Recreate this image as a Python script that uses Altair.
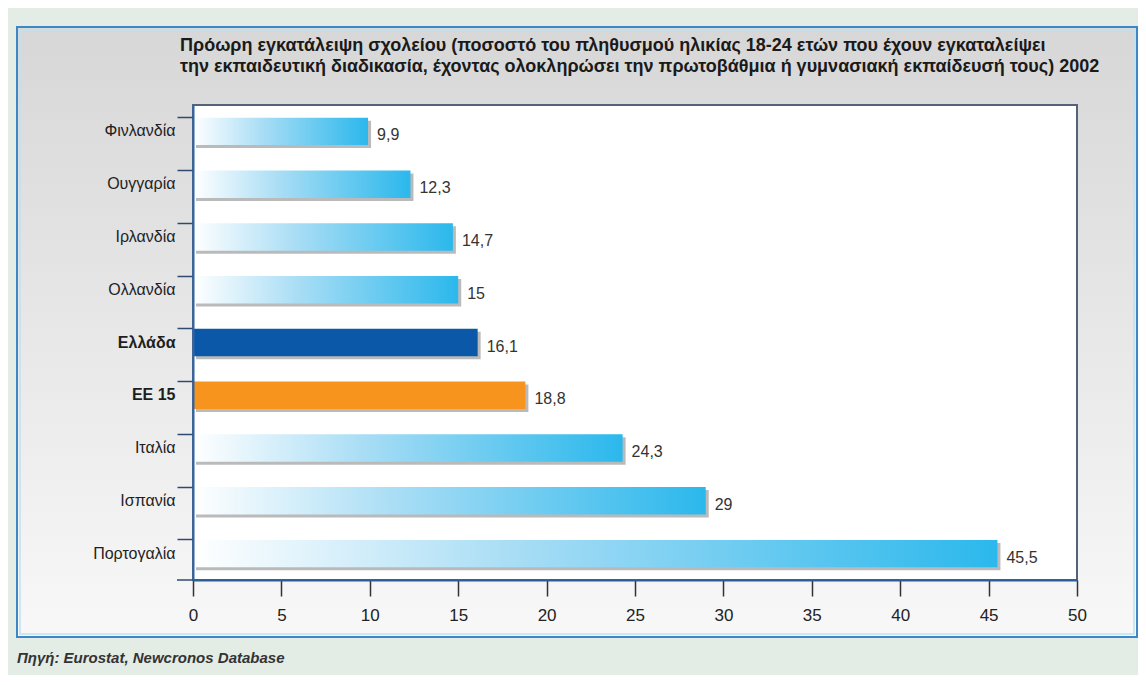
import altair as alt
import pandas as pd

countries = ["Φινλανδία", "Ουγγαρία", "Ιρλανδία", "Ολλανδία", "Ελλάδα",
             "ΕΕ 15", "Ιταλία", "Ισπανία", "Πορτογαλία"]
values = [9.9, 12.3, 14.7, 15, 16.1, 18.8, 24.3, 29, 45.5]
labels = ["9,9", "12,3", "14,7", "15", "16,1", "18,8", "24,3", "29", "45,5"]
groups = ["other", "other", "other", "other", "greece", "eu", "other", "other", "other"]
x_ticks = [0, 5, 10, 15, 20, 25, 30, 35, 40, 45, 50]

title_1 = "Πρόωρη εγκατάλειψη σχολείου (ποσοστό του πληθυσμού ηλικίας 18-24 ετών που έχουν εγκαταλείψει"
title_2 = "την εκπαιδευτική διαδικασία, έχοντας ολοκληρώσει την πρωτοβάθμια ή γυμνασιακή εκπαίδευσή τους) 2002"
source = "Πηγή: Eurostat, Newcronos Database"

FONT = "Liberation Sans, Arial, sans-serif"
W, H = 884, 475

df = pd.DataFrame({"country": countries, "value": values, "label": labels, "group": groups})
one = pd.DataFrame({"a": [0]})

y_enc = alt.Y("country:N", sort=countries,
              scale=alt.Scale(paddingInner=0.48, paddingOuter=0.24),
              axis=alt.Axis(title=None, domainColor="#2a66ad", domainWidth=2,
                            tickColor="#2f4a70", tickSize=16, tickWidth=1.5,
                            bandPosition=0, labelFontSize=16, labelFont=FONT,
                            labelColor="#1e1e1e", labelPadding=2, zindex=1,
                            labelFontWeight={"expr": "datum.value == 'Ελλάδα' || datum.value == 'ΕΕ 15' ? 'bold' : 'normal'"}))
x_enc = alt.X("value:Q", scale=alt.Scale(domain=[0, 50], nice=False),
              axis=alt.Axis(title=None, values=x_ticks, grid=False,
                            domainColor="#2a5d9a", domainWidth=2,
                            tickColor="#333333", tickSize=16, tickWidth=1.5,
                            labelFontSize=17, labelFont=FONT, labelColor="#222222",
                            labelPadding=11, labelFlush=False, zindex=1))

box = alt.Chart(one).mark_rect(
    fill={"gradient": "linear", "x1": 0, "y1": 0, "x2": 0, "y2": 1,
          "stops": [{"offset": 0, "color": "#d7d7d7"}, {"offset": 1, "color": "#f8f8f8"}]},
    stroke="#3f86c6", strokeWidth=2
).encode(x=alt.value(-176), x2=alt.value(944), y=alt.value(-78), y2=alt.value(532))

inner = alt.Chart(one).mark_rect(fill="transparent", stroke="#bfe2f4", strokeWidth=1.5).encode(
    x=alt.value(-173), x2=alt.value(941), y=alt.value(-75), y2=alt.value(529))

plot_bg = alt.Chart(one).mark_rect(fill="#ffffff", stroke="#56627a", strokeWidth=2).encode(
    x=alt.value(0), x2=alt.value(W), y=alt.value(0), y2=alt.value(H))

base = alt.Chart(df)

shadow = base.mark_bar(color="#8c8c8c", opacity=0.6, xOffset=3, x2Offset=3, yOffset=3).encode(
    x=x_enc, y=y_enc)

bars_other = base.transform_filter(alt.datum.group == "other").mark_bar(
    fill={"gradient": "linear", "x1": 0, "y1": 0, "x2": 1, "y2": 0,
          "stops": [{"offset": 0, "color": "#ffffff"},
                    {"offset": 0.4, "color": "#a8ddf5"},
                    {"offset": 1, "color": "#2bb8ec"}]}
).encode(x=x_enc, y=y_enc)

bars_gr = base.transform_filter(alt.datum.group == "greece").mark_bar(fill="#0b58a8").encode(
    x=x_enc, y=y_enc)
bars_eu = base.transform_filter(alt.datum.group == "eu").mark_bar(fill="#f7941e").encode(
    x=x_enc, y=y_enc)

vals = base.mark_text(align="left", baseline="middle", dx=9, dy=4, fontSize=16,
                      font=FONT, color="#333333").encode(x=x_enc, y=y_enc, text="label:N")

bottom_tick = alt.Chart(one).mark_rule(color="#2f4a70", strokeWidth=1.5).encode(
    x=alt.value(-16), x2=alt.value(0), y=alt.value(H))

t1 = alt.Chart(one).mark_text(align="left", baseline="middle", fontSize=18, font=FONT,
                              fontWeight="bold", color="#1a1a1a").encode(
    x=alt.value(-13), y=alt.value(-59), text=alt.value(title_1))
t2 = alt.Chart(one).mark_text(align="left", baseline="middle", fontSize=18, font=FONT,
                              fontWeight="bold", color="#1a1a1a").encode(
    x=alt.value(-13), y=alt.value(-38), text=alt.value(title_2))
src = alt.Chart(one).mark_text(align="left", baseline="middle", fontSize=15, font=FONT,
                               fontStyle="italic", fontWeight="bold", color="#333333").encode(
    x=alt.value(-176), y=alt.value(553), text=alt.value(source))

chart = alt.layer(box, inner, plot_bg, shadow, bars_other, bars_gr, bars_eu, vals,
                  bottom_tick, t1, t2, src).properties(
    width=W, height=H,
    autosize=alt.AutoSizeParams(type="none"),
    padding={"left": 185, "top": 97, "right": 61, "bottom": 95},
    background="#e4ece6"
).configure_view(stroke=None)

chart.save("out.html", embed_options={"renderer": "svg", "actions": False})
